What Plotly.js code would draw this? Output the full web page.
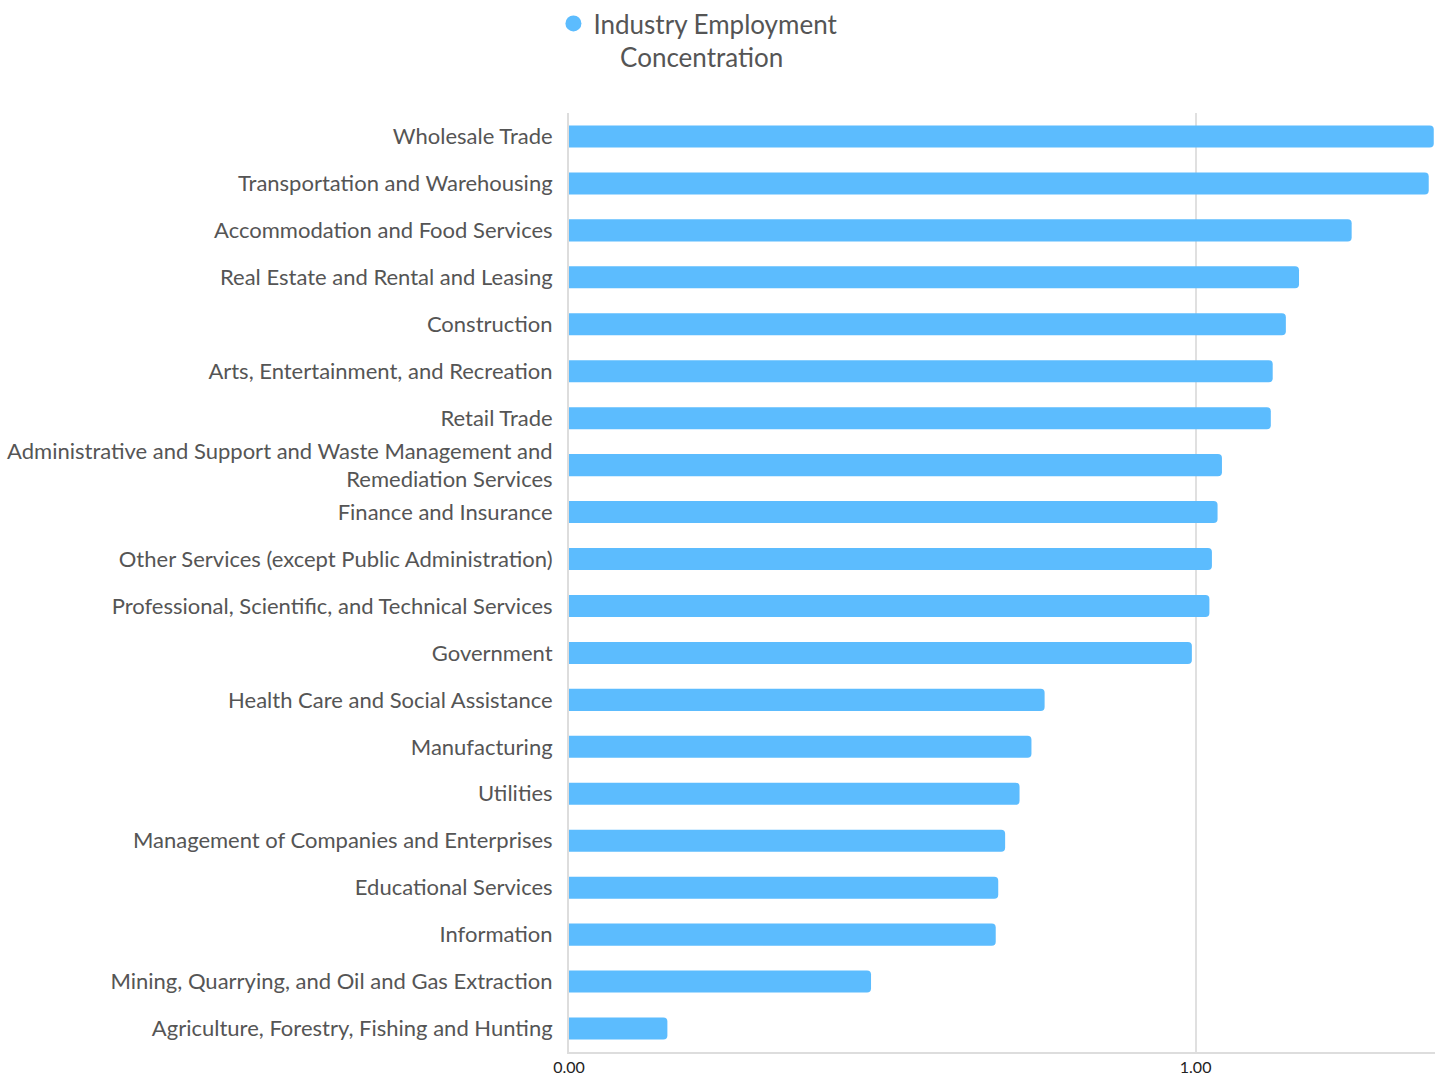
<!DOCTYPE html>
<html>
<head>
<meta charset="utf-8">
<script src="https://cdn.plot.ly/plotly-3.0.1.min.js"></script>
<style>html,body{margin:0;padding:0;background:#fff;}</style>
</head>
<body>
<div id="chart" style="width:1445px;height:1078px;"></div>
<script>
const industries = [
  "Wholesale Trade",
  "Transportation and Warehousing",
  "Accommodation and Food Services",
  "Real Estate and Rental and Leasing",
  "Construction",
  "Arts, Entertainment, and Recreation",
  "Retail Trade",
  "Administrative and Support and Waste Management and<br>Remediation Services",
  "Finance and Insurance",
  "Other Services (except Public Administration)",
  "Professional, Scientific, and Technical Services",
  "Government",
  "Health Care and Social Assistance",
  "Manufacturing",
  "Utilities",
  "Management of Companies and Enterprises",
  "Educational Services",
  "Information",
  "Mining, Quarrying, and Oil and Gas Extraction",
  "Agriculture, Forestry, Fishing and Hunting"
];
const concentration = [1.380, 1.372, 1.249, 1.165, 1.144, 1.123, 1.120, 1.042, 1.035, 1.026, 1.022, 0.994, 0.759, 0.738, 0.719, 0.696, 0.685, 0.681, 0.482, 0.157];
const seriesName = "Industry Employment<br>&nbsp;&nbsp;&nbsp;&nbsp;Concentration";
const xTickValues = [0, 1];
const xTickLabels = ["0.00", "1.00"];

const barColor = "#5cbcfe";

const traces = [
  {
    type: "bar",
    orientation: "h",
    x: concentration,
    y: industries,
    marker: {color: barColor, cornerradius: 4},
    showlegend: false,
    hoverinfo: "x+y"
  },
  {
    type: "scatter",
    mode: "markers",
    x: [null],
    y: [null],
    name: seriesName,
    marker: {color: barColor, size: 18, symbol: "circle"},
    showlegend: true
  }
];

const layout = {
  width: 1445,
  height: 1078,
  margin: {l: 569, r: 10, t: 113, b: 26, pad: 0},
  paper_bgcolor: "#fff",
  plot_bgcolor: "#fff",
  font: {family: "Lato, 'Open Sans', sans-serif", color: "#555"},
  bargap: 0.53,
  showlegend: true,
  legend: {
    xref: "container", yref: "container",
    x: 0.383, y: 1.0, xanchor: "left", yanchor: "top",
    orientation: "h",
    valign: "top",
    font: {size: 26, color: "#555"},
    itemwidth: 30
  },
  xaxis: {
    range: [0, 1.382],
    tickvals: xTickValues,
    ticktext: xTickLabels,
    showgrid: true,
    gridcolor: "#e0e0e0",
    gridwidth: 2,
    zeroline: false,
    showline: true,
    linecolor: "#dddddd",
    linewidth: 2,
    ticks: "",
    tickfont: {size: 16, color: "#222"},
    fixedrange: true
  },
  yaxis: {
    type: "category",
    categoryorder: "array",
    categoryarray: industries,
    autorange: "reversed",
    showline: true,
    linecolor: "#dddddd",
    linewidth: 2,
    showgrid: false,
    ticks: "",
    ticklabelstandoff: 10,
    tickfont: {size: 22, color: "#555"},
    fixedrange: true
  }
};

Plotly.newPlot("chart", traces, layout, {displayModeBar: false, staticPlot: true});
</script>
</body>
</html>
